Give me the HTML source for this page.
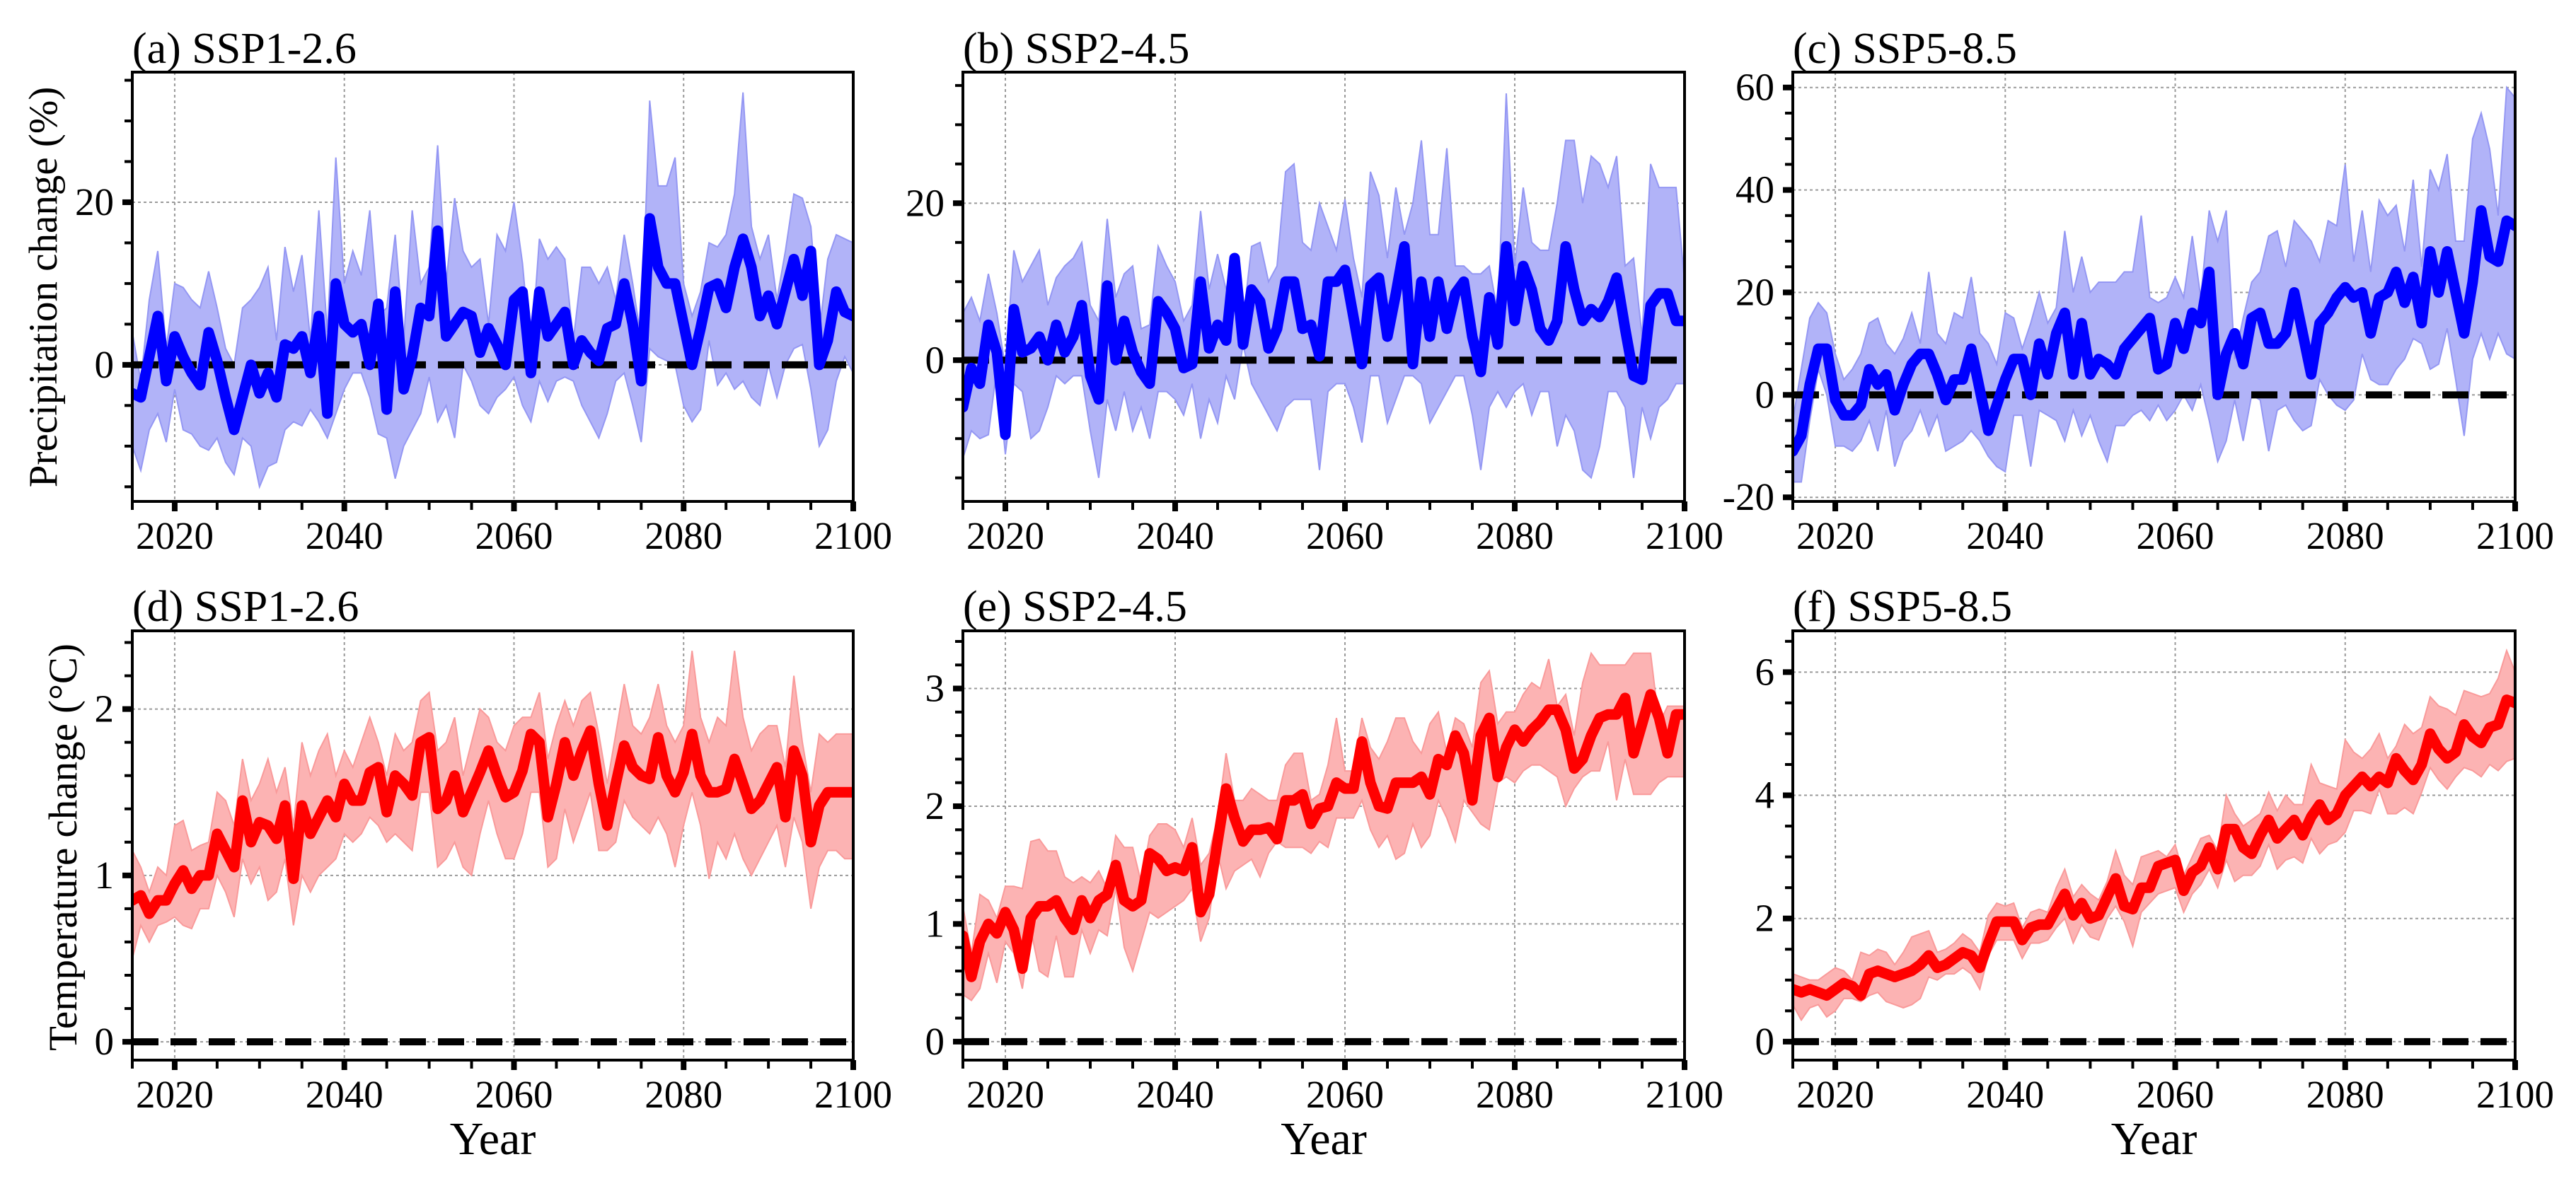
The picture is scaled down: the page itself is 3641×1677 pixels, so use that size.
<!DOCTYPE html>
<html><head><meta charset="utf-8"><style>
html,body{margin:0;padding:0;background:#fff;}
svg{display:block;font-family:"Liberation Serif","DejaVu Serif",serif;}
</style></head><body>
<svg id="fig" width="3641" height="1677" viewBox="0 0 3641 1677" xmlns="http://www.w3.org/2000/svg"></svg>
<script>
// ---------- data ----------
const startYear = 2015;
const endYear = 2100;
const xTicks = [2020, 2040, 2060, 2080, 2100];

const aMean = [-3.5,-4,1,6,-2,3.5,1,-1,-2.5,4, 0.5,-4,-8,-4,0,-3.5,-1,-4,2.5,2, 3.5,-1,6,-6,10,5,4,5,0,7.5, -5.5,9,-3,1,7,6,16.5,3.5,5,6.5, 6,1.5,4.5,2.5,0,8,9,-1,9,3.5, 5,6.5,0,3,1.5,0.5,4.5,5,10,5, -2,18,12,10,10,5,0,4.5,9.5,10, 7,12,15.5,12,6,8.5,5,9,13,8.5, 14,0,3,9,6.5,6];
const aUpper = [4,-2,8,14,2,10,9.5,8,7,11.5, 7,2,0,7,8,9.5,12,3,14.5,9, 13.5,3,19,4,25.5,10,14,11,19,6, 7,16,3,19,10,12,27,10,20.5,14, 12,13,5,16,14,20,12.5,1,15.5,13, 14.5,13,3,12,12,10,12,8,16,10, 3,32.5,22,22,25.5,10,6,9,15,14.5, 16,21,33.5,17,13,16,8,14,21,20.5, 17,4,13,16,15.5,15];
const aLower = [-10,-13,-8,-6,-9.5,-3,-8,-8.5,-10,-10.5, -9,-12,-13.5,-9,-10,-15,-12.5,-12,-8,-7, -7.5,-5.5,-7,-9,-6,-3,-1,-1,-4,-8.5, -9,-14,-10,-8,-6,-1.5,-7,-5,-9,0, -2,-5,-6,-4,-3,-1.5,-5,-7,-2,-4.5, -2,-1.5,-2,-5,-7,-9,-6,-2,-1,-5, -9.5,2,1,0.5,0,-5,-7,-5.5,3,-2.5, -1,-3,-2,-4,-5,0,-4,0,2,2.5, -3,-10,-8,-2,1,-1];

const bMean = [-6,-1,-3,4.5,1,-9.5,6.5,1,1.5,3, 0,4.5,1,3,7,-2,-5,9.5,0,5, 1,-1.5,-3,7.5,6,4,-1,-0.5,10,1.5, 4.5,2.5,13,2,9,7.5,1.5,4,10,10, 4,4.5,0.5,10,10,11.5,5.5,-0.5,9.5,10.5, 3,8.5,14.5,-0.5,10,3,10,4,8.5,10, 3,-1.5,8,2,14.5,5,12,9,4,2.5, 5,14.5,9,5,6.5,5.5,7.5,10.5,4,-2, -2.5,7,8.5,8.5,5,5];
const bUpper = [6,8,5,11,6,-1,14,10,12,14, 7,10.5,12,13,15,7,5,18,8,11, 12,4,4.5,14.5,12,10,5,7,19,9, 13.5,9,13.5,5,14.5,15,10,12,24,25, 15,14,20,17,14,20.5,13,8,24,21, 13,22,16,20,28,16,16,27,12,12, 11,11,12,6,34,12,22,15,14,14, 20,28,28,20,26,25,22,26,12,13, 3,25,22,22,22,10];
const bLower = [-12.5,-9,-10,-9.5,-1,-12,-3,-4,-10,-9, -6,-2,-3,-2,-2,-9,-15,-5,-9,-4, -9,-6,-10,-4,-4,-5,-7,-3,-10,-5, -8,-2,-5,2,-3,-5,-7,-9,-6,-5, -5,-5,-14,-4,-3,-3,-6,-10.5,-2,-2, -8,-5,-2,-2,-3,-8,-6,-4,-2,-2, -7,-14,-6,-4,-6,-4,-3,-7,-4,-4, -11,-7,-9,-14,-15,-11,-4,-4,-6,-15, -6,-10,-6,-5,-3,-3];

const cMean = [-11,-8,2,9,9,-1,-4,-4,-2,5, 2,4,-3,2,6,8,8,4,-1,3, 3,9,1,-7,-2,3,7,7,0,10, 4,12,16,4,14,4,7,6,4,9, 11,13,15,5,6,14,9,16,14,24, 0,8,12,6,15,16,10,10,12,20, 12,4,14,16,19,21,19,20,12,19, 20,24,18,23,14,28,20,28,20,12, 22,36,27,26,34,33];
const cUpper = [-5,5,15,18,16,8,3,5,8,14, 15,10,8,11,16,10,24,12,10,16, 15,23,12,10,6,16,15,9,14,20, 14,17,32,20,27,20,22,22,22,24, 24,35,19,18,19,23,19,31,19,36, 30,36,7,15,22,24,31,32,25,34, 32,30,26,34,33,45,26,36,24,38, 35,37,28,42,25,44,40,47,30,30, 50,55,48,35,60,58];
const cLower = [-17,-17,-5,5,0,-10,-10,-11,-9,-5, -11,-3,-14,-9,-7,-3,-8,-4,-11,-10, -9,-7,-9,-12,-14,-15,-4,-4,-14,-3, -4,-5,-9,-3,-8,-4,-9,-13,-6,-6, -4,-3,-5,-2,-5,-3,0,-3,2,-5, -13,-9,-1,-9,0,-1,-11,-3,-2,-5, -7,-6,3,0,-2,-3,-1,8,3,2, 2,5,7,11,10,5,6,13,3,-8, 7,12,7,12,8,7];

const dMean = [0.85,0.88,0.77,0.85,0.85,0.95,1.03,0.92,1.0,1.0, 1.25,1.15,1.05,1.45,1.2,1.32,1.3,1.22,1.42,0.98, 1.42,1.25,1.35,1.45,1.35,1.55,1.45,1.45,1.62,1.65, 1.38,1.6,1.55,1.48,1.8,1.83,1.4,1.45,1.6,1.38, 1.5,1.62,1.75,1.6,1.47,1.5,1.63,1.85,1.8,1.35, 1.55,1.8,1.6,1.75,1.87,1.55,1.3,1.55,1.78,1.65, 1.6,1.58,1.83,1.6,1.5,1.62,1.85,1.6,1.5,1.5, 1.52,1.7,1.55,1.4,1.45,1.55,1.65,1.35,1.75,1.6, 1.2,1.42,1.5,1.5,1.5,1.5];
const dUpper = [1.15,1.05,0.9,1.05,1.0,1.3,1.33,1.15,1.18,1.2, 1.5,1.45,1.3,1.7,1.45,1.55,1.7,1.5,1.65,1.3, 1.8,1.6,1.75,1.85,1.6,1.75,1.65,1.8,1.95,1.8, 1.6,1.85,1.75,1.8,2.05,2.1,1.75,1.8,1.95,1.6, 1.8,2.0,1.95,1.8,1.75,1.9,1.95,1.95,2.1,1.7, 1.9,2.05,1.9,2.05,2.1,1.85,1.55,1.85,2.15,1.9, 1.85,1.95,2.15,1.9,1.8,1.9,2.35,1.95,1.8,1.95, 1.9,2.35,1.95,1.75,1.85,1.9,1.9,1.65,2.2,1.8, 1.5,1.85,1.8,1.85,1.85,1.85];
const dLower = [0.5,0.7,0.6,0.7,0.72,0.75,0.7,0.68,0.8,0.8, 1.0,0.9,0.75,1.1,0.95,1.05,0.85,0.9,1.1,0.7, 1.0,0.9,1.0,1.05,1.1,1.25,1.2,1.25,1.35,1.3, 1.2,1.25,1.2,1.15,1.5,1.5,1.05,1.1,1.2,1.05, 1.0,1.25,1.45,1.25,1.1,1.1,1.25,1.5,1.5,1.05, 1.1,1.4,1.2,1.35,1.5,1.15,1.15,1.2,1.45,1.35, 1.3,1.25,1.35,1.25,1.05,1.3,1.5,1.3,0.98,1.2, 1.1,1.25,1.1,1.0,1.1,1.2,1.3,1.05,1.35,1.2, 0.8,1.05,1.15,1.15,1.1,1.1];

const eMean = [0.9,0.55,0.85,1.0,0.92,1.1,0.95,0.62,1.05,1.15, 1.15,1.2,1.05,0.95,1.2,1.05,1.2,1.25,1.5,1.2, 1.15,1.2,1.6,1.55,1.45,1.48,1.45,1.65,1.1,1.25, 1.7,2.15,1.9,1.7,1.8,1.8,1.82,1.72,2.05,2.05, 2.1,1.85,1.98,2.0,2.2,2.15,2.15,2.55,2.2,2.0, 1.98,2.2,2.2,2.2,2.25,2.1,2.4,2.35,2.6,2.45, 2.05,2.6,2.75,2.25,2.5,2.65,2.55,2.65,2.72,2.82, 2.82,2.65,2.32,2.4,2.6,2.75,2.78,2.78,2.92,2.45, 2.7,2.95,2.75,2.45,2.78,2.78];
const eUpper = [1.15,0.75,1.25,1.2,1.05,1.32,1.32,1.3,1.7,1.72, 1.62,1.62,1.4,1.35,1.4,1.35,1.45,1.3,1.75,1.65, 1.65,1.35,1.75,1.85,1.85,1.8,1.65,1.9,1.5,1.6, 1.9,2.45,2.05,2.05,2.15,2.1,2.05,2.05,2.35,2.45, 2.45,2.05,2.1,2.35,2.75,2.3,2.3,2.75,2.5,2.4, 2.55,2.75,2.75,2.55,2.45,2.7,2.8,2.45,2.75,2.7, 2.5,3.05,3.15,2.7,2.8,2.8,2.95,3.05,3.0,3.25, 2.85,2.95,2.6,3.05,3.3,3.2,3.2,3.2,3.2,3.3, 3.3,3.3,2.7,2.85,2.85,2.85];
const eLower = [0.4,0.35,0.45,0.75,0.5,0.85,0.75,0.45,0.95,0.6, 0.55,0.9,0.55,0.55,0.95,0.75,0.95,0.9,1.3,0.8, 0.6,0.85,1.1,1.05,1.1,1.15,1.2,1.3,0.85,1.05, 1.6,1.3,1.45,1.5,1.55,1.4,1.6,1.7,1.65,1.65, 1.65,1.6,1.7,1.65,1.9,1.9,1.9,2.05,1.8,1.65, 1.75,1.55,1.6,1.85,1.65,1.75,2.05,1.9,1.7,2.05, 1.95,1.85,1.8,2.2,2.25,2.2,2.3,2.35,2.35,2.3, 2.25,2.0,2.15,2.25,2.3,2.3,2.55,2.05,2.4,2.1, 2.1,2.1,2.2,2.25,2.25,2.25];

const fMean = [0.85,0.8,0.85,0.8,0.75,0.85,0.95,0.9,0.75,1.1, 1.15,1.1,1.05,1.1,1.15,1.25,1.4,1.2,1.25,1.35, 1.45,1.4,1.2,1.6,1.95,1.95,1.95,1.65,1.85,1.9, 1.9,2.15,2.4,2.05,2.25,2.0,2.05,2.35,2.65,2.2, 2.15,2.5,2.5,2.85,2.9,2.95,2.45,2.75,2.85,3.15, 2.8,3.45,3.45,3.15,3.05,3.35,3.6,3.3,3.45,3.6, 3.35,3.65,3.85,3.6,3.7,4.0,4.15,4.3,4.15,4.3, 4.2,4.6,4.4,4.25,4.5,5.0,4.75,4.6,4.7,5.15, 4.95,4.85,5.1,5.15,5.55,5.5];
const fUpper = [1.1,1.05,1.0,1.0,1.1,1.2,1.15,1.0,1.45,1.4, 1.5,1.45,1.25,1.45,1.7,1.75,1.8,1.45,1.5,1.6, 1.75,1.65,1.45,2.05,2.25,2.2,2.25,1.85,2.1,2.15, 2.1,2.5,2.8,2.35,2.55,2.4,2.3,2.6,3.1,2.7, 2.55,3.0,3.05,3.1,3.0,3.2,2.7,3.0,3.3,3.35, 3.1,4.0,3.7,3.5,3.6,3.7,4.05,3.75,4.0,3.85, 3.85,4.5,4.2,4.15,4.1,4.9,4.7,4.6,4.75,5.0, 4.6,4.8,5.15,5.0,5.1,5.6,5.45,5.4,5.3,5.7, 5.65,5.6,5.65,5.9,6.35,6.0];
const fLower = [0.6,0.35,0.55,0.6,0.4,0.5,0.7,0.7,0.65,0.75, 0.8,0.65,0.6,0.55,0.6,0.7,1.05,1.0,1.1,1.1, 1.2,1.1,0.85,1.4,1.65,1.65,1.65,1.35,1.6,1.6, 1.65,1.85,2.0,1.6,1.9,1.7,1.65,2.0,2.2,1.95, 1.55,2.1,2.25,2.4,2.45,2.5,2.1,2.4,2.55,2.8, 2.5,2.95,2.6,2.7,2.7,2.85,3.2,2.8,2.95,3.0, 2.9,3.3,3.05,3.2,3.25,3.4,3.75,3.75,3.7,4.1, 3.7,3.7,3.8,3.7,4.05,4.45,4.25,4.1,4.3,4.45, 4.4,4.3,4.5,4.4,4.55,4.6];

const aTicks = [0, 20];
const bTicks = [0, 20];
const cTicks = [-20, 0, 20, 40, 60];
const dTicks = [0, 1, 2];
const eTicks = [0, 1, 2, 3];
const fTicks = [0, 2, 4, 6];

// ---------- layout ----------
const NS = "http://www.w3.org/2000/svg";
const svg = document.getElementById('fig');
const COLS = [[187, 1206], [1361, 2381], [2534, 3555]];
const ROWS = [[102, 709], [892, 1499]];
const BLUE = {line: '#0000ff', fill: '#b1b3f8', edge: '#9497f3'};
const RED = {line: '#ff0000', fill: '#fcb3b3', edge: '#f99a9a'};

const panels = [
  {id: 'a', title: '(a) SSP1-2.6', col: 0, row: 0, ymin: -16.8, ymax: 36, ticks: aTicks, minor: 5, mean: aMean, up: aUpper, lo: aLower, c: BLUE},
  {id: 'b', title: '(b) SSP2-4.5', col: 1, row: 0, ymin: -18, ymax: 36.7, ticks: bTicks, minor: 5, mean: bMean, up: bUpper, lo: bLower, c: BLUE},
  {id: 'c', title: '(c) SSP5-8.5', col: 2, row: 0, ymin: -20.8, ymax: 63, ticks: cTicks, minor: 5, mean: cMean, up: cUpper, lo: cLower, c: BLUE},
  {id: 'd', title: '(d) SSP1-2.6', col: 0, row: 1, ymin: -0.11, ymax: 2.47, ticks: dTicks, minor: 0.2, mean: dMean, up: dUpper, lo: dLower, c: RED},
  {id: 'e', title: '(e) SSP2-4.5', col: 1, row: 1, ymin: -0.157, ymax: 3.49, ticks: eTicks, minor: 0.2, mean: eMean, up: eUpper, lo: eLower, c: RED},
  {id: 'f', title: '(f) SSP5-8.5', col: 2, row: 1, ymin: -0.3, ymax: 6.67, ticks: fTicks, minor: 0.5, mean: fMean, up: fUpper, lo: fLower, c: RED}
];

function mk(tag, attrs, parent) {
  const el = document.createElementNS(NS, tag);
  for (const k in attrs) el.setAttribute(k, attrs[k]);
  (parent || svg).appendChild(el);
  return el;
}

panels.forEach(p => {
  const [x0, x1] = COLS[p.col];
  const [y0, y1] = ROWS[p.row];
  const sx = v => x0 + (v - startYear) / (endYear - startYear) * (x1 - x0);
  const sy = v => y1 - (v - p.ymin) / (p.ymax - p.ymin) * (y1 - y0);
  const g = mk('g', {});
  
  

  const clipId = 'clip' + p.id;
  const cp = mk('clipPath', {id: clipId}, g);
  mk('rect', {x: x0, y: y0, width: x1 - x0, height: y1 - y0}, cp);

  xTicks.forEach(t => {
    const l = mk('line', {x1: sx(t), x2: sx(t), y1: y0, y2: y1, stroke: '#9a9a9a', 'stroke-width': 2, 'stroke-dasharray': '4 4'}, g);
    
    
  });
  p.ticks.forEach(t => {
    const l = mk('line', {x1: x0, x2: x1, y1: sy(t), y2: sy(t), stroke: '#9a9a9a', 'stroke-width': 2, 'stroke-dasharray': '4 4'}, g);
    
    
  });

  const n = Math.min(p.mean.length, p.up.length, p.lo.length);
  const yr = i => startYear + i;
  let d = '';
  for (let i = 0; i < n; i++) d += (i ? 'L' : 'M') + sx(yr(i)).toFixed(1) + ' ' + sy(p.up[i]).toFixed(1);
  for (let i = n - 1; i >= 0; i--) d += 'L' + sx(yr(i)).toFixed(1) + ' ' + sy(p.lo[i]).toFixed(1);
  d += 'Z';
  const band = mk('path', {d: d, fill: p.c.fill, stroke: p.c.edge, 'stroke-width': 2, 'clip-path': 'url(#' + clipId + ')'}, g);
  
  

  const z = mk('line', {x1: x0, x2: x1, y1: sy(0), y2: sy(0), stroke: '#000', 'stroke-width': 10, 'stroke-dasharray': '37 17'}, g);
  
  

  let m = '';
  for (let i = 0; i < n; i++) m += (i ? 'L' : 'M') + sx(yr(i)).toFixed(1) + ' ' + sy(p.mean[i]).toFixed(1);
  const ml = mk('path', {d: m, fill: 'none', stroke: p.c.line, 'stroke-width': 15, 'stroke-linejoin': 'round', 'stroke-linecap': 'round', 'clip-path': 'url(#' + clipId + ')'}, g);
  
  

  const fr = mk('rect', {x: x0, y: y0, width: x1 - x0, height: y1 - y0, fill: 'none', stroke: '#000', 'stroke-width': 4}, g);
  
  

  for (let t = startYear; t <= endYear; t += 5) {
    const major = xTicks.indexOf(t) >= 0;
    const tk = mk('rect', {x: sx(t) - (major ? 4 : 2), y: y1, width: major ? 8 : 4, height: major ? 14 : 12, fill: '#000'}, g);
    
    
  }
  xTicks.forEach(t => {
    const tx = mk('text', {x: sx(t), y: y1 + 67, 'font-size': 55, 'text-anchor': 'middle', fill: '#000'}, g);
    tx.textContent = t;
    
    
  });

  const st = p.minor;
  for (let k = Math.ceil(p.ymin / st); k * st <= p.ymax + 1e-9; k++) {
    const v = k * st;
    const major = p.ticks.some(t => Math.abs(t - v) < 1e-6);
    const tk = mk('rect', {x: x0 - (major ? 14 : 11), y: sy(v) - (major ? 4 : 2), width: major ? 14 : 11, height: major ? 8 : 4, fill: '#000'}, g);
    
    
  }
  p.ticks.forEach(t => {
    const tx = mk('text', {x: x0 - 26, y: sy(t) + 18, 'font-size': 55, 'text-anchor': 'end', fill: '#000'}, g);
    tx.textContent = t;
    
    
  });

  const ti = mk('text', {x: x0, y: p.row === 0 ? 89 : 878, 'font-size': 62, fill: '#000'}, g);
  ti.textContent = p.title;
  
  

  if (p.row === 1) {
    const xl = mk('text', {x: (x0 + x1) / 2, y: 1632, 'font-size': 66, 'text-anchor': 'middle', fill: '#000'}, g);
    xl.textContent = 'Year';
    
    
  }
});

const yl1 = mk('text', {x: 0, y: 0, 'font-size': 57, 'text-anchor': 'middle', fill: '#000', transform: 'translate(80,406) rotate(-90)'});
yl1.textContent = 'Precipitation change (%)';



const yl2 = mk('text', {x: 0, y: 0, 'font-size': 57, 'text-anchor': 'middle', fill: '#000', transform: 'translate(108,1198) rotate(-90)'});
yl2.textContent = 'Temperature change (°C)';


</script>
</body></html>
